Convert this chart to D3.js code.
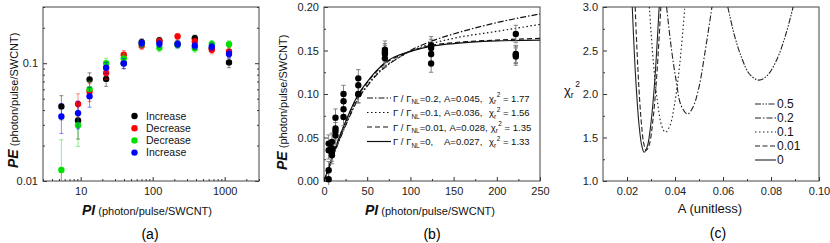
<!DOCTYPE html>
<html><head><meta charset="utf-8">
<script src="https://cdn.jsdelivr.net/npm/d3@7"></script>
<style>
body{margin:0;background:#fff}
svg{font-family:"Liberation Sans",Arial,Helvetica,sans-serif}
.axis path{stroke:none}
.axis line{stroke:#333}
.axis text{fill:#222;font-size:11px;font-family:"Liberation Sans",Arial,sans-serif}
</style>
</head><body>
<svg id="chart" width="830" height="243"></svg>
<script>
// ---------- DATA ----------
// panel (a)/(b): photon emission vs photon injection
const piValues = [5.4, 9.2, 13.3, 22.6, 39.7, 70.5, 124, 222, 385, 663, 1150];
const seriesNames = ["Increase", "Decrease", "Decrease", "Increase"];
const seriesColors = ["#000000", "#ff0000", "#00e000", "#0000ff"];
const peIncrease1 = [0.043, 0.0327, 0.0728, 0.0736, 0.100, 0.151, 0.156, 0.146, 0.163, 0.134, 0.1016];
const peDecrease1 = [0.002, 0.045, 0.0572, 0.0826, 0.118, 0.141, 0.153, 0.169, 0.153, 0.130, 0.126];
const peDecrease2 = [0.0124, 0.0297, 0.0603, 0.100, 0.110, 0.146, 0.135, 0.143, 0.134, 0.146, 0.145];
const peIncrease2 = [0.0353, 0.0377, 0.0523, 0.0916, 0.0996, 0.148, 0.146, 0.145, 0.141, 0.138, 0.120];
const peError = 0.01;

// panel (b): fitted curves
const piFit = [0, 5, 10, 15, 20, 30, 40, 50, 60, 72, 85, 100, 125, 150, 200, 250];
const fitR02  = [0, 0.013, 0.027, 0.040, 0.052, 0.075, 0.095, 0.109, 0.121, 0.132, 0.141, 0.150, 0.161, 0.169, 0.182, 0.192];
const fitR01  = [0, 0.013, 0.028, 0.041, 0.053, 0.076, 0.096, 0.110, 0.122, 0.133, 0.141, 0.149, 0.158, 0.164, 0.172, 0.180];
const fitR001 = [0, 0.014, 0.029, 0.043, 0.056, 0.079, 0.099, 0.113, 0.125, 0.136, 0.143, 0.149, 0.156, 0.159, 0.162, 0.164];
const fitR0   = [0, 0.014, 0.029, 0.043, 0.056, 0.080, 0.100, 0.114, 0.126, 0.137, 0.144, 0.149, 0.155, 0.158, 0.161, 0.162];
const fitRatios = ["0.2", "0.1", "0.01", "0"];
const fitA = ["0.045", "0.036", "0.028", "0.027"];
const fitChi = ["1.77", "1.56", "1.35", "1.33"];

// panel (c): chi^2 vs A
const chiLabels = ["0.5", "0.2", "0.1", "0.01", "0"];
const aR05  = [0.0620, 0.0650, 0.0680, 0.0710, 0.0748, 0.0780, 0.0820, 0.0860, 0.0892];
const chiR05  = [3.00, 2.65, 2.40, 2.23, 2.16, 2.20, 2.37, 2.67, 3.00];
const aR02  = [0.0365, 0.0385, 0.0405, 0.0425, 0.0452, 0.0475, 0.0500, 0.0525, 0.0554];
const chiR02  = [3.00, 2.52, 2.15, 1.87, 1.77, 1.85, 2.08, 2.48, 3.00];
const aR01  = [0.0293, 0.0310, 0.0327, 0.0345, 0.0360, 0.0378, 0.0398, 0.0420, 0.0441];
const chiR01  = [3.00, 2.36, 1.91, 1.63, 1.56, 1.63, 1.88, 2.35, 3.00];
const aR001 = [0.0234, 0.0245, 0.0258, 0.0270, 0.0280, 0.0293, 0.0308, 0.0323, 0.0341];
const chiR001 = [3.00, 2.31, 1.73, 1.43, 1.35, 1.42, 1.70, 2.17, 3.00];
const aR0   = [0.0222, 0.0235, 0.0250, 0.0262, 0.0272, 0.0285, 0.0300, 0.0315, 0.0334];
const chiR0   = [3.00, 2.24, 1.65, 1.40, 1.33, 1.40, 1.67, 2.13, 3.00];

// ---------- DRAW ----------
const svg = d3.select("#chart");
const allSeries = [peIncrease1, peDecrease1, peDecrease2, peIncrease2];

function frame(x0, x1, y0, y1) {
  svg.append("rect").attr("x", x0).attr("y", y0).attr("width", x1 - x0).attr("height", y1 - y0)
    .attr("fill", "none").attr("stroke", "#444").attr("stroke-width", 1);
}
function clip(id, x0, x1, y0, y1) {
  svg.append("clipPath").attr("id", id).append("rect")
    .attr("x", x0).attr("y", y0).attr("width", x1 - x0).attr("height", y1 - y0);
}
function addAxis(gen, tx, ty) {
  return svg.append("g").attr("class", "axis").attr("transform", `translate(${tx},${ty})`).call(gen);
}

// ===== Panel (a) =====
const ax0 = 43, ax1 = 259, ay0 = 7, ay1 = 181;
const xA = d3.scaleLog().domain([3, 3000]).range([ax0, ax1]);
const yA = d3.scaleLog().domain([0.01, 0.3]).range([ay1, ay0]);
const isPow = v => Math.abs(Math.log10(v) - Math.round(Math.log10(v))) < 1e-6;
const xAminor = xA.ticks().filter(v => !isPow(v));
const yAminor = yA.ticks().filter(v => !isPow(v));
addAxis(d3.axisBottom(xA).tickValues([10, 100, 1000]).tickFormat(d3.format("d")).tickSize(-4).tickPadding(6), 0, ay1);
addAxis(d3.axisBottom(xA).tickValues(xAminor).tickFormat("").tickSize(-2), 0, ay1);
addAxis(d3.axisLeft(yA).tickValues([0.01, 0.1]).tickFormat(d => d === 0.1 ? "0.1" : "0.01").tickSize(-4).tickPadding(5), ax0, 0);
addAxis(d3.axisLeft(yA).tickValues(yAminor).tickFormat("").tickSize(-2), ax0, 0);
addAxis(d3.axisRight(yA).tickValues([0.01, 0.1]).tickFormat("").tickSize(-4), ax1, 0);
addAxis(d3.axisRight(yA).tickValues(yAminor).tickFormat("").tickSize(-2), ax1, 0);
frame(ax0, ax1, ay0, ay1);
clip("clipA", ax0, ax1, ay0, ay1);
const gA = svg.append("g").attr("clip-path", "url(#clipA)");
allSeries.forEach((ser, si) => {
  const col = seriesColors[si];
  const g = gA.append("g");
  ser.forEach((v, i) => {
    const x = xA(piValues[i]);
    const lo = Math.max(v - peError, 0.001);
    g.append("line").attr("x1", x).attr("x2", x).attr("y1", yA(lo)).attr("y2", yA(v + peError))
      .attr("stroke", col).attr("stroke-opacity", 0.45).attr("stroke-width", 1);
    [v + peError, lo].forEach(e => g.append("line").attr("x1", x - 2).attr("x2", x + 2)
      .attr("y1", yA(e)).attr("y2", yA(e)).attr("stroke", col).attr("stroke-opacity", 0.45));
  });
  g.selectAll("circle.p").data(ser).enter().append("circle")
    .attr("cx", (d, i) => xA(piValues[i])).attr("cy", d => yA(d)).attr("r", 3.2).attr("fill", col);
});
// legend (a)
seriesNames.forEach((n, i) => {
  const y = 116 + i * 12.2;
  svg.append("circle").attr("cx", 134.5).attr("cy", y).attr("r", 3.2).attr("fill", seriesColors[i]);
  svg.append("text").attr("x", 146).attr("y", y + 3.6).attr("font-size", 10.5).attr("fill", "#111").text(n);
});
// titles
function xTitle(x, y) {
  const t = svg.append("text").attr("x", x).attr("y", y).attr("fill", "#111");
  t.append("tspan").attr("font-size", 14).attr("font-weight", "bold").attr("font-style", "italic").text("PI");
  t.append("tspan").attr("font-size", 11).text(" (photon/pulse/SWCNT)");
}
function yTitle(x, y) {
  const t = svg.append("text").attr("transform", `translate(${x},${y}) rotate(-90)`).attr("fill", "#111");
  t.append("tspan").attr("font-size", 14).attr("font-weight", "bold").attr("font-style", "italic").text("PE");
  t.append("tspan").attr("font-size", 11).text(" (photon/pulse/SWCNT)");
}
xTitle(82, 215);
yTitle(18, 168);
svg.append("text").attr("x", 150).attr("y", 239).attr("text-anchor", "middle").attr("font-size", 14).text("(a)");

// ===== Panel (b) =====
const bx0 = 324, bx1 = 540, by0 = 7, by1 = 181;
const xB = d3.scaleLinear().domain([0, 250]).range([bx0, bx1]);
const yB = d3.scaleLinear().domain([0, 0.2]).range([by1, by0]);
addAxis(d3.axisBottom(xB).tickValues([0, 50, 100, 150, 200, 250]).tickFormat(d3.format("d")).tickSize(-4).tickPadding(6), 0, by1);
addAxis(d3.axisBottom(xB).tickValues([25, 75, 125, 175, 225]).tickFormat("").tickSize(-2), 0, by1);
addAxis(d3.axisLeft(yB).tickValues([0, 0.05, 0.1, 0.15, 0.2]).tickFormat(d3.format(".2f")).tickSize(-4).tickPadding(5), bx0, 0);
addAxis(d3.axisLeft(yB).tickValues([0.025, 0.075, 0.125, 0.175]).tickFormat("").tickSize(-2), bx0, 0);
frame(bx0, bx1, by0, by1);
clip("clipB", bx0, bx1, by0 - 1, by1 + 4);
const gB = svg.append("g").attr("clip-path", "url(#clipB)");
const bDashes = ["6,2,1.5,2", "1.5,2.5", "5,3", null];
const fits = [fitR02, fitR01, fitR001, fitR0];
const lineB = d3.line().x((d, i) => xB(piFit[i])).y(d => yB(d)).curve(d3.curveMonotoneX);
fits.forEach((f, i) => {
  gB.append("path").attr("d", lineB(f)).attr("fill", "none").attr("stroke", "#111")
    .attr("stroke-width", 1.2).attr("stroke-dasharray", bDashes[i]);
});
allSeries.forEach(ser => {
  ser.forEach((v, i) => {
    const p = piValues[i];
    if (p > 250) return;
    const x = xB(p);
    gB.append("line").attr("x1", x).attr("x2", x).attr("y1", yB(v - peError)).attr("y2", yB(v + peError))
      .attr("stroke", "#777").attr("stroke-width", 0.9);
    [v + peError, v - peError].forEach(e => gB.append("line").attr("x1", x - 2.2).attr("x2", x + 2.2)
      .attr("y1", yB(e)).attr("y2", yB(e)).attr("stroke", "#777").attr("stroke-width", 0.9));
  });
});
allSeries.forEach(ser => {
  ser.forEach((v, i) => {
    const p = piValues[i];
    if (p > 250) return;
    gB.append("circle").attr("cx", xB(p)).attr("cy", yB(v)).attr("r", 3.2).attr("fill", "#000");
  });
});
// legend (b)
fitRatios.forEach((r, i) => {
  const y = 98 + i * 14.5;
  svg.append("line").attr("x1", 367).attr("x2", 391).attr("y1", y).attr("y2", y)
    .attr("stroke", "#111").attr("stroke-width", 1.2).attr("stroke-dasharray", bDashes[i]);
  const t = svg.append("text").attr("x", 393).attr("y", y + 3.5).attr("font-size", 9.5).attr("fill", "#111");
  t.append("tspan").text("Γ / Γ");
  t.append("tspan").attr("font-size", 6.5).attr("dy", 2.5).text("NL");
  t.append("tspan").attr("dy", -2.5).text("=" + r + ",");
  const gEnd = 393 + t.node().getComputedTextLength();
  const ax = Math.max(444, gEnd + 3);
  const at = svg.append("text").attr("x", ax).attr("y", y + 3.5).attr("font-size", 9.5).attr("fill", "#111").text("A=" + fitA[i] + ",");
  const aEnd = ax + at.node().getComputedTextLength();
  const cxp = Math.max(489, aEnd + 3);
  const c = svg.append("text").attr("x", cxp).attr("y", y + 3.5).attr("font-size", 9.5).attr("fill", "#111");
  c.append("tspan").text("χ");
  c.append("tspan").attr("font-size", 6.5).attr("dy", 2.5).text("r");
  c.append("tspan").attr("font-size", 6.5).attr("dy", -7).attr("dx", 0.5).text("2");
  c.append("tspan").attr("dy", 4.5).text(" = " + fitChi[i]);
});
xTitle(365, 215);
yTitle(287, 170);
svg.append("text").attr("x", 432).attr("y", 239).attr("text-anchor", "middle").attr("font-size", 14).text("(b)");

// ===== Panel (c) =====
const cx0 = 603, cx1 = 819, cy0 = 7, cy1 = 181;
const xC = d3.scaleLinear().domain([0.01, 0.10]).range([cx0, cx1]);
const yC = d3.scaleLinear().domain([1.0, 3.0]).range([cy1, cy0]);
addAxis(d3.axisBottom(xC).tickValues([0.02, 0.04, 0.06, 0.08, 0.10]).tickFormat(d3.format(".2f")).tickSize(-4).tickPadding(6), 0, cy1);
addAxis(d3.axisBottom(xC).tickValues([0.03, 0.05, 0.07, 0.09]).tickFormat("").tickSize(-2), 0, cy1);
addAxis(d3.axisLeft(yC).tickValues([1.0, 1.5, 2.0, 2.5, 3.0]).tickFormat(d3.format(".1f")).tickSize(-4).tickPadding(5), cx0, 0);
addAxis(d3.axisLeft(yC).tickValues([1.25, 1.75, 2.25, 2.75]).tickFormat("").tickSize(-2), cx0, 0);
frame(cx0, cx1, cy0, cy1);
clip("clipC", cx0, cx1, cy0, cy1);
const gC = svg.append("g").attr("clip-path", "url(#clipC)");
const cDashes = ["6,1.5,1.5,1.5,1.5,1.5", "6,2,1.5,2", "1.5,2.5", "5,2.5", null];
const cA = [aR05, aR02, aR01, aR001, aR0];
const cChi = [chiR05, chiR02, chiR01, chiR001, chiR0];
cA.forEach((aa, k) => {
  const pts = aa.map((a, i) => [a, cChi[k][i]]);
  const ln = d3.line().x(d => xC(d[0])).y(d => yC(d[1])).curve(d3.curveCatmullRom.alpha(0.5));
  gC.append("path").attr("d", ln(pts)).attr("fill", "none").attr("stroke", "#222")
    .attr("stroke-width", 1.1).attr("stroke-dasharray", cDashes[k]);
});
chiLabels.forEach((l, i) => {
  const y = 104 + i * 14;
  svg.append("line").attr("x1", 755).attr("x2", 776).attr("y1", y).attr("y2", y)
    .attr("stroke", "#222").attr("stroke-width", 1.1).attr("stroke-dasharray", cDashes[i]);
  svg.append("text").attr("x", 777).attr("y", y + 4).attr("font-size", 12).attr("fill", "#111").text(l);
});
svg.append("text").attr("x", 710).attr("y", 213).attr("text-anchor", "middle").attr("font-size", 13).attr("fill", "#111").text("A (unitless)");
const chiT = svg.append("text").attr("x", 564).attr("y", 95).attr("font-size", 13).attr("fill", "#111");
chiT.append("tspan").text("χ");
chiT.append("tspan").attr("font-size", 8.5).attr("dy", 3).text("r");
chiT.append("tspan").attr("font-size", 8.5).attr("dy", -11).attr("dx", 1.5).text("2");
svg.append("text").attr("x", 718).attr("y", 238).attr("text-anchor", "middle").attr("font-size", 14).text("(c)");
</script>
</body></html>
